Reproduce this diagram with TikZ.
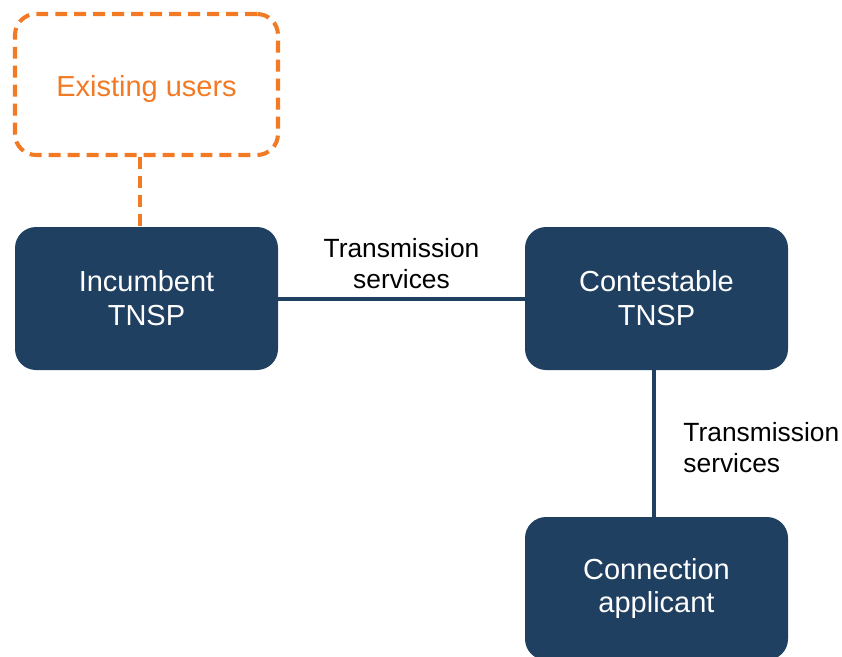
\documentclass[tikz,border=0pt]{standalone}
\usepackage{fontspec}
\setmainfont{Liberation Sans}
\definecolor{tnspblue}{RGB}{32,64,98}
\definecolor{userorange}{RGB}{242,122,37}
\begin{document}
\begin{tikzpicture}[
  tnspbox/.style={fill=tnspblue,text=white,rounded corners=0.42cm,minimum width=5.26cm,minimum height=2.86cm,align=center,font=\fontsize{16.5}{19.3}\selectfont},
  userbox/.style={draw=userorange,line width=2.3pt,dash pattern=on 6.8pt off 4pt,rounded corners=0.42cm,minimum width=5.26cm,minimum height=2.82cm,text=userorange,font=\fontsize{16.5}{19.3}\selectfont},
  link/.style={draw=tnspblue,line width=2.2pt},
  userlink/.style={draw=userorange,line width=2.3pt,dash pattern=on 6.8pt off 4pt},
  service/.style={font=\fontsize{15}{17.6}\selectfont,inner sep=0pt}
]
\useasboundingbox (0,0) rectangle (16.84,13.12);
\clip (0,0) rectangle (16.84,13.12);
\node [userbox] (users) at (2.93,11.43) {\raisebox{-0.23cm}[0pt][0pt]{Existing users}};
\node [tnspbox] (inc) at (2.93,7.15) {Incumbent\\TNSP};
\node [tnspbox] (cont) at (13.13,7.15) {Contestable\\TNSP};
\node [tnspbox] (appl) at (13.13,1.35) {Connection\\applicant};
\draw [userlink] ([xshift=-0.13cm]users.south) -- ([xshift=-0.13cm]inc.north);
\draw [link] ([yshift=-0.01cm]inc.east) -- node [service,above=0.16cm,align=center] (svc1) {Transmission\\services} ([yshift=-0.01cm]cont.west);
\draw [link] ([xshift=-0.05cm]cont.south) -- node [service,right=0.55cm,align=left,yshift=-0.08cm] (svc2) {Transmission\\services} ([xshift=-0.05cm]appl.north);
\end{tikzpicture}
\end{document}
